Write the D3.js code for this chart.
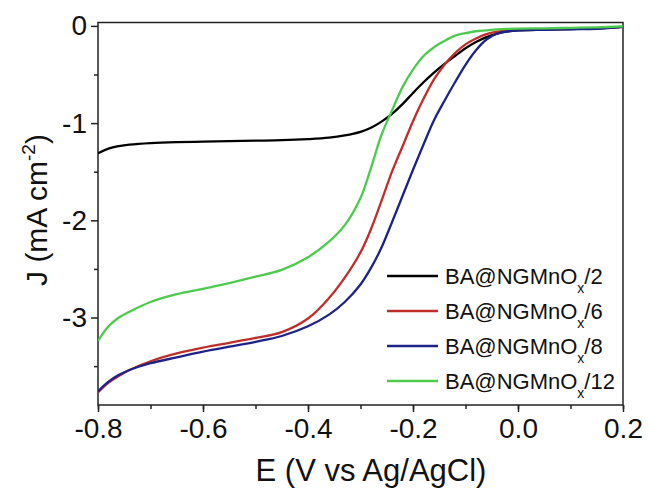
<!DOCTYPE html>
<html><head><meta charset="utf-8">
<script src="https://cdn.jsdelivr.net/npm/d3@7"></script>
<style>
html,body{margin:0;padding:0;background:#fff;}
svg{display:block;font-family:"Liberation Sans",Arial,sans-serif;}
</style></head>
<body><svg id="c" width="649" height="491"></svg>
<script>
const E = [-0.8,-0.78,-0.76,-0.74,-0.7,-0.65,-0.6,-0.55,-0.5,-0.45,-0.4,-0.36,-0.33,-0.3,-0.28,-0.26,-0.24,-0.22,-0.2,-0.18,-0.16,-0.14,-0.12,-0.1,-0.08,-0.06,-0.04,-0.02,0,0.05,0.1,0.15,0.2];
const J2  = [-1.31,-1.262,-1.237,-1.222,-1.206,-1.196,-1.191,-1.186,-1.181,-1.176,-1.165,-1.15,-1.127,-1.09,-1.048,-0.985,-0.905,-0.805,-0.69,-0.58,-0.48,-0.39,-0.31,-0.23,-0.165,-0.115,-0.08,-0.057,-0.046,-0.038,-0.032,-0.025,-0.01];
const J6  = [-3.77,-3.67,-3.60,-3.54,-3.45,-3.37,-3.31,-3.26,-3.21,-3.15,-3.01,-2.80,-2.59,-2.33,-2.09,-1.80,-1.50,-1.24,-0.98,-0.75,-0.55,-0.40,-0.28,-0.19,-0.13,-0.085,-0.06,-0.046,-0.04,-0.035,-0.03,-0.025,-0.01];
const J8  = [-3.76,-3.66,-3.59,-3.54,-3.47,-3.41,-3.35,-3.30,-3.25,-3.19,-3.09,-2.97,-2.84,-2.66,-2.49,-2.28,-2.02,-1.75,-1.48,-1.22,-0.97,-0.77,-0.58,-0.40,-0.25,-0.14,-0.08,-0.056,-0.046,-0.04,-0.035,-0.03,-0.01];
const J12 = [-3.24,-3.09,-3.00,-2.94,-2.84,-2.76,-2.705,-2.645,-2.58,-2.51,-2.38,-2.22,-2.05,-1.77,-1.46,-1.12,-0.87,-0.63,-0.45,-0.31,-0.22,-0.155,-0.10,-0.075,-0.055,-0.045,-0.036,-0.031,-0.028,-0.025,-0.02,-0.015,-0.005];
const seriesNames = ["BA@NGMnO","BA@NGMnO","BA@NGMnO","BA@NGMnO"];
const seriesSuffix = ["/2","/6","/8","/12"];
const seriesColors = ["#000000","#c02e2c","#1e2388","#4ccb4c"];
const xTicks = [-0.8,-0.6,-0.4,-0.2,0.0,0.2];
const yTicks = [0,-1,-2,-3];

const svg = d3.select("#c");
const L=98, R=623, T=22.5, B=405;
const x = d3.scaleLinear().domain([-0.8,0.2]).range([L,R]);
const y = d3.scaleLinear().domain([-3.9,0.035]).range([B,T]);

// frame
svg.append("rect").attr("x",L).attr("y",T).attr("width",R-L).attr("height",B-T)
  .attr("fill","none").attr("stroke","#222").attr("stroke-width",1.5);

// x axis
const xa = svg.append("g").attr("transform",`translate(0,${B})`)
  .call(d3.axisBottom(x).tickValues(d3.range(-0.8,0.2001,0.1).map(v=>+v.toFixed(2))).tickSize(4).tickFormat(""));
xa.select(".domain").remove();
xa.selectAll("line").attr("stroke","#222").attr("stroke-width",1.5);
const xb = svg.append("g").attr("transform",`translate(0,${B})`)
  .call(d3.axisBottom(x).tickValues(xTicks).tickSize(7).tickPadding(6).tickFormat(d3.format(".1f")));
xb.select(".domain").remove();
xb.selectAll("line").attr("stroke","#222").attr("stroke-width",1.5);
xb.selectAll("text").attr("font-size",28).attr("fill","#111").attr("font-family","Liberation Sans, Arial, sans-serif")
  .text(d=>d3.format(".1f")(d).replace("−","-"));

// y axis
const ya = svg.append("g").attr("transform",`translate(${L},0)`)
  .call(d3.axisLeft(y).tickValues([-0.5,-1.5,-2.5,-3.5]).tickSize(4).tickFormat(""));
ya.select(".domain").remove();
ya.selectAll("line").attr("stroke","#222").attr("stroke-width",1.5);
const yb = svg.append("g").attr("transform",`translate(${L},0)`)
  .call(d3.axisLeft(y).tickValues(yTicks).tickSize(7).tickPadding(4).tickFormat(d=>String(d)));
yb.select(".domain").remove();
yb.selectAll("line").attr("stroke","#222").attr("stroke-width",1.5);
yb.selectAll("text").attr("font-size",28).attr("fill","#111").attr("font-family","Liberation Sans, Arial, sans-serif");

// curves
const allJ = [J2,J6,J8,J12];
const line = d3.line().x(d=>x(d[0])).y(d=>y(d[1])).curve(d3.curveCatmullRom.alpha(0.5));
svg.append("clipPath").attr("id","cp").append("rect").attr("x",L).attr("y",T-2).attr("width",R-L).attr("height",B-T+2);
allJ.forEach((J,i)=>{
  svg.append("path").datum(E.map((e,k)=>[e,J[k]]))
    .attr("d",line).attr("fill","none").attr("stroke",seriesColors[i])
    .attr("stroke-width",2.3).attr("stroke-linejoin","round").attr("clip-path","url(#cp)");
});

// legend
const lg = svg.append("g");
const rowsY = [276,311,346,381];
seriesNames.forEach((n,i)=>{
  lg.append("line").attr("x1",387).attr("x2",438).attr("y1",rowsY[i]).attr("y2",rowsY[i])
    .attr("stroke",seriesColors[i]).attr("stroke-width",2.3);
  const t = lg.append("text").attr("x",445).attr("y",rowsY[i]+8).attr("font-size",22).attr("fill","#111");
  t.append("tspan").text(n);
  t.append("tspan").attr("font-size",14).attr("dy",9).text("x");
  t.append("tspan").attr("dy",-9).text(seriesSuffix[i]);
});

// axis titles
svg.append("text").attr("x",371).attr("y",481).attr("text-anchor","middle")
  .attr("font-size",31).attr("fill","#111").text("E (V vs Ag/AgCl)");
const yt = svg.append("text").attr("transform","translate(47,210) rotate(-90)").attr("text-anchor","middle")
  .attr("font-size",30).attr("fill","#111");
yt.append("tspan").text("J (mA cm");
yt.append("tspan").attr("font-size",19).attr("dy",-12).text("-2");
yt.append("tspan").attr("dy",12).text(")");
</script></body></html>
